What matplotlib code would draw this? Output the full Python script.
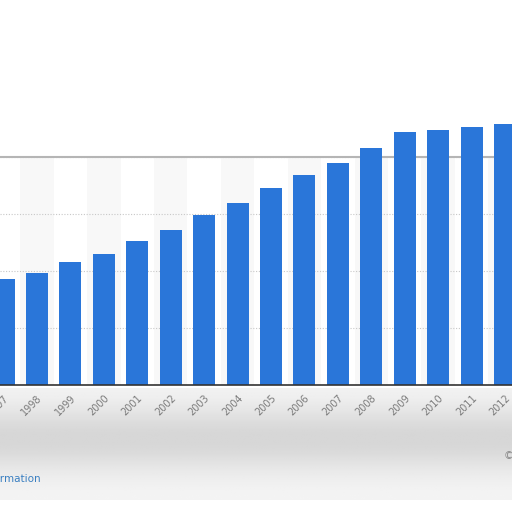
import numpy as np
import matplotlib.pyplot as plt

# data (y labels are cut off, grid step taken as 50)
years = ['1997', '1998', '1999', '2000', '2001', '2002', '2003', '2004',
         '2005', '2006', '2007', '2008', '2009', '2010', '2011', '2012']
values = [93, 98, 108, 115, 126, 136, 149, 160,
          173, 184, 195, 208, 222, 224, 226, 229]
grid_vals = [50, 100, 150, 200]

bar_color = '#2a76d9'

fig = plt.figure(figsize=(5.12, 5.12), dpi=100)
fig.patch.set_facecolor('white')

# blurred grey strip under the axis (soft vertical shading)
bg = fig.add_axes([0, 12 / 512, 1, 112 / 512], zorder=-5)
bg.axis('off')
t = np.linspace(0, 1, 100)
shade = 0.96 - 0.12 * np.exp(-((t - 0.45) / 0.3) ** 2)
bg.imshow(np.tile(shade[:, None], (1, 10)), cmap='gray', vmin=0, vmax=1,
          aspect='auto', extent=[0, 1, 0, 1])
bg.set_xlim(0, 1)
bg.set_ylim(0, 1)

ax = fig.add_axes([0, 127 / 512, 1, 228 / 512])
ax.set_facecolor('white')
x = np.arange(len(years))

# alternating light column bands
for i in x:
    if i % 2 == 1:
        ax.axvspan(i - 0.5, i + 0.5, color='#f8f8f8', zorder=0, lw=0)

for g in grid_vals:
    ax.axhline(g, color='#c8c8c8', lw=0.8, ls=(0, (1, 1.5)), zorder=1)

ax.bar(x, values, width=0.66, color=bar_color, zorder=3, clip_on=False)

ax.set_xlim(-0.108, 15.21)
ax.set_ylim(0, 200)
ax.set_yticks([])
ax.set_xticks(x)
ax.set_xticklabels(years, rotation=45, ha='right', rotation_mode='anchor',
                   fontsize=7, color='#7a7a7a')
ax.tick_params(axis='x', length=0, pad=6)

for s in ['left', 'right']:
    ax.spines[s].set_visible(False)
ax.spines['top'].set_color('#b5b5b5')
ax.spines['top'].set_linewidth(1.5)
ax.spines['top'].set_zorder(2)
ax.spines['bottom'].set_color('#333333')
ax.spines['bottom'].set_linewidth(1.2)
ax.spines['bottom'].set_zorder(4)

fig.text(41 / 512, 1 - 479 / 512, 'Additional Information', ha='right', va='center',
         fontsize=7.5, color='#3a7fc1')
fig.text(504 / 512, 1 - 456 / 512, '\u00a9 Statista 2013', ha='left', va='center',
         fontsize=7.5, color='#888888')

fig.savefig('out.png', dpi=100)
